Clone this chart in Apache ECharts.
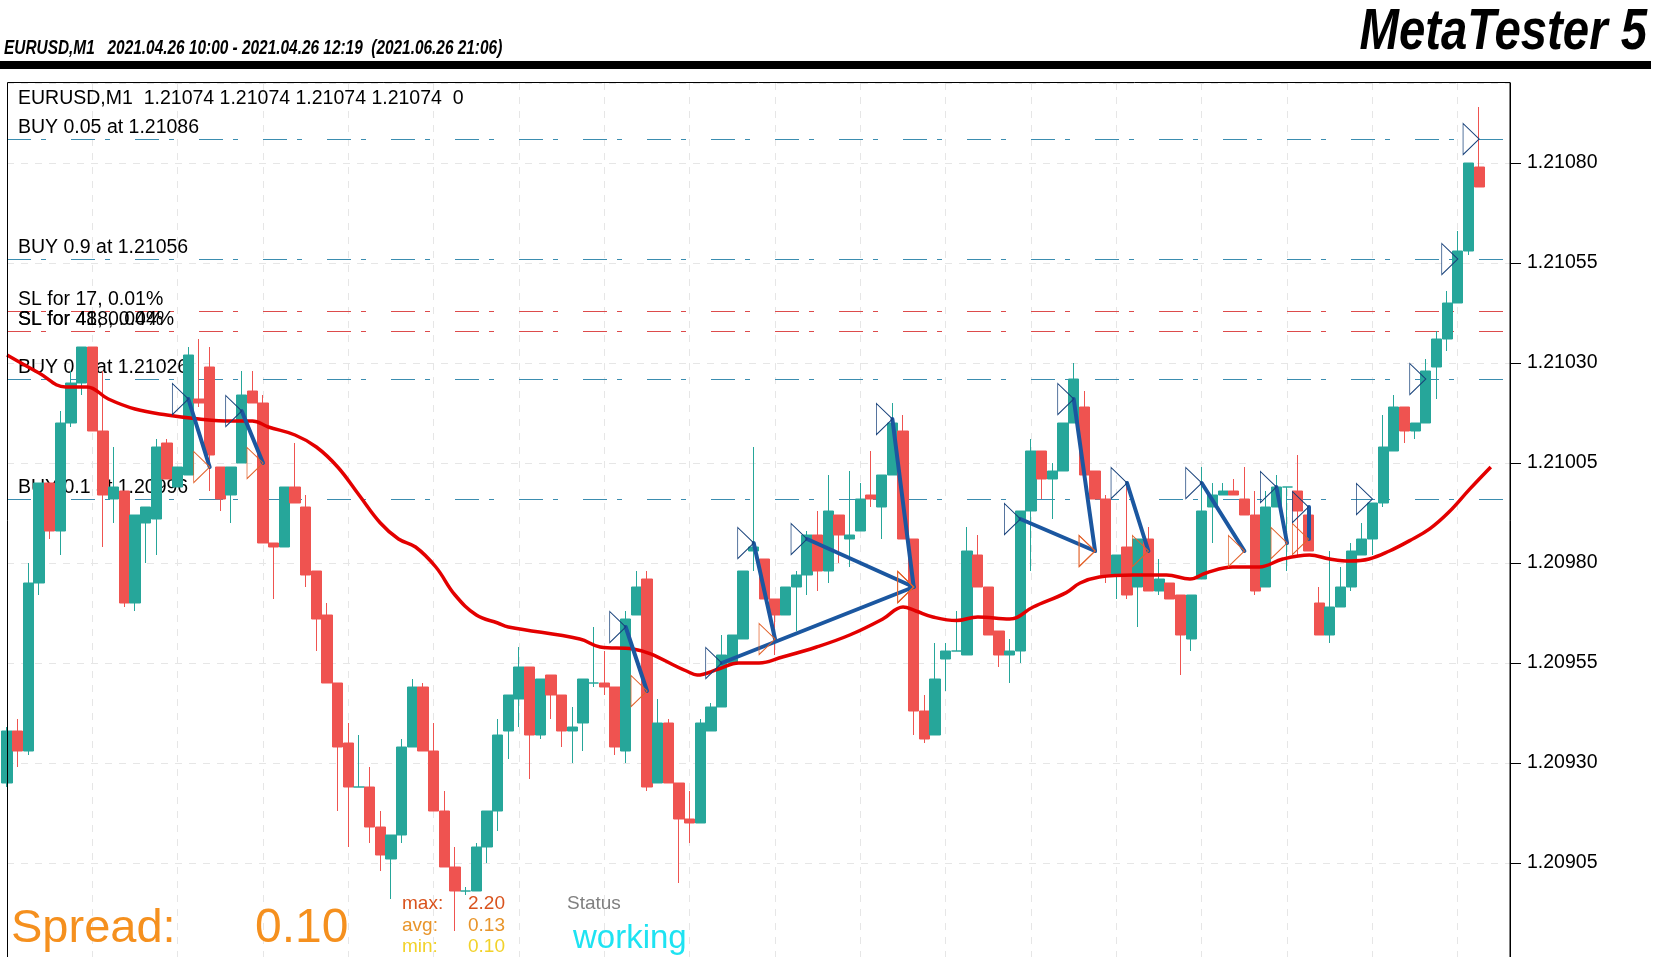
<!DOCTYPE html>
<html>
<head>
<meta charset="utf-8">
<script src="https://cdn.jsdelivr.net/npm/echarts@6/dist/echarts.min.js"></script>
<style>
  html, body { margin: 0; padding: 0; background: #fff; }
  #chart { width: 1654px; height: 957px; }
</style>
</head>
<body>
<div id="chart"></div>
<script>
// EURUSD M1 bars, index 0 = leftmost (partly hidden) bar
const opens = [
  1.20925, 1.20938, 1.20933, 1.20975, 1.21000, 1.20988, 1.21015, 1.21025, 1.21034, 1.21013,
  1.20996, 1.20998, 1.20970, 1.20990, 1.20991, 1.21010, 1.20999, 1.21002, 1.21021, 1.21029,
  1.21004, 1.20997, 1.21005, 1.21023, 1.21020, 1.20985, 1.20984, 1.20999, 1.20994, 1.20978,
  1.20967, 1.20950, 1.20935, 1.20924, 1.20924, 1.20914, 1.20906, 1.20912, 1.20934, 1.20949,
  1.20933, 1.20918, 1.20904, 1.20898, 1.20898, 1.20909, 1.20918, 1.20938, 1.20946, 1.20954,
  1.20937, 1.20952, 1.20947, 1.20938, 1.20940, 1.20950, 1.20950, 1.20949, 1.20933, 1.20967,
  1.20976, 1.20925, 1.20940, 1.20925, 1.20916, 1.20915, 1.20938, 1.20944, 1.20955, 1.20961,
  1.20983, 1.20981, 1.20971, 1.20967, 1.20974, 1.20977, 1.20987, 1.20978, 1.20992, 1.20986,
  1.20988, 1.20997, 1.20994, 1.21002, 1.21013, 1.20986, 1.20943, 1.20937, 1.20956, 1.20958,
  1.20957, 1.20982, 1.20974, 1.20963, 1.20957, 1.20958, 1.20993, 1.21008, 1.21001, 1.21003,
  1.21015, 1.21019, 1.21003, 1.20996, 1.20977, 1.20984, 1.20974, 1.20986, 1.20973, 1.20975,
  1.20972, 1.20961, 1.20976, 1.20994, 1.20997, 1.20998, 1.20996, 1.20992, 1.20974, 1.20994,
  1.20999, 1.20998, 1.20992, 1.20970, 1.20962, 1.20969, 1.20974, 1.20982, 1.20986, 1.20995,
  1.21008, 1.21019, 1.21013, 1.21015, 1.21029, 1.21036, 1.21045, 1.21058, 1.21079
];
const closes = [
  1.20938, 1.20933, 1.20975, 1.21000, 1.20988, 1.21015, 1.21025, 1.21034, 1.21013, 1.20997,
  1.20999, 1.20970, 1.20992, 1.20994, 1.21009, 1.21001, 1.21004, 1.21032, 1.21020, 1.21007,
  1.20996, 1.21004, 1.21022, 1.21020, 1.20985, 1.20984, 1.20999, 1.20995, 1.20977, 1.20966,
  1.20950, 1.20934, 1.20924, 1.20924, 1.20914, 1.20907, 1.20912, 1.20934, 1.20949, 1.20933,
  1.20918, 1.20904, 1.20898, 1.20898, 1.20909, 1.20918, 1.20937, 1.20947, 1.20954, 1.20937,
  1.20951, 1.20947, 1.20938, 1.20939, 1.20951, 1.20950, 1.20949, 1.20934, 1.20966, 1.20974,
  1.20924, 1.20940, 1.20925, 1.20916, 1.20915, 1.20940, 1.20944, 1.20957, 1.20962, 1.20978,
  1.20984, 1.20971, 1.20967, 1.20974, 1.20977, 1.20987, 1.20978, 1.20993, 1.20987, 1.20987,
  1.20996, 1.20996, 1.21002, 1.21015, 1.20986, 1.20943, 1.20936, 1.20951, 1.20958, 1.20958,
  1.20983, 1.20974, 1.20962, 1.20957, 1.20958, 1.20993, 1.21008, 1.21001, 1.21003, 1.21015,
  1.21026, 1.21002, 1.20996, 1.20977, 1.20982, 1.20972, 1.20986, 1.20973, 1.20976, 1.20971,
  1.20962, 1.20972, 1.20993, 1.20997, 1.20998, 1.20997, 1.20992, 1.20973, 1.20994, 1.20999,
  1.20999, 1.20993, 1.20983, 1.20962, 1.20969, 1.20974, 1.20983, 1.20986, 1.20995, 1.21009,
  1.21019, 1.21013, 1.21015, 1.21028, 1.21036, 1.21045, 1.21058, 1.21080, 1.21074
];
const lows = [
  1.20924, 1.20929, 1.20932, 1.20972, 1.20986, 1.20982, 1.21014, 1.21022, 1.21013, 1.20984,
  1.20990, 1.20969, 1.20968, 1.20980, 1.20982, 1.21001, 1.20999, 1.21002, 1.21019, 1.20998,
  1.20993, 1.20990, 1.21005, 1.21020, 1.20985, 1.20971, 1.20984, 1.20995, 1.20974, 1.20958,
  1.20950, 1.20918, 1.20909, 1.20924, 1.20910, 1.20903, 1.20896, 1.20910, 1.20934, 1.20933,
  1.20918, 1.20904, 1.20888, 1.20897, 1.20898, 1.20905, 1.20913, 1.20931, 1.20939, 1.20926,
  1.20936, 1.20941, 1.20934, 1.20930, 1.20933, 1.20949, 1.20947, 1.20932, 1.20930, 1.20967,
  1.20923, 1.20925, 1.20925, 1.20900, 1.20910, 1.20915, 1.20938, 1.20944, 1.20955, 1.20961,
  1.20978, 1.20971, 1.20957, 1.20967, 1.20963, 1.20972, 1.20973, 1.20975, 1.20980, 1.20979,
  1.20988, 1.20994, 1.20986, 1.21002, 1.20986, 1.20937, 1.20935, 1.20937, 1.20948, 1.20958,
  1.20957, 1.20974, 1.20962, 1.20954, 1.20950, 1.20955, 1.20978, 1.20996, 1.20991, 1.21003,
  1.21015, 1.21002, 1.20996, 1.20975, 1.20971, 1.20971, 1.20964, 1.20973, 1.20972, 1.20971,
  1.20952, 1.20958, 1.20976, 1.20985, 1.20997, 1.20997, 1.20992, 1.20972, 1.20974, 1.20994,
  1.20978, 1.20982, 1.20983, 1.20962, 1.20960, 1.20969, 1.20973, 1.20982, 1.20982, 1.20994,
  1.21008, 1.21010, 1.21011, 1.21015, 1.21021, 1.21033, 1.21045, 1.21057, 1.21074
];
const highs = [
  1.20939, 1.20941, 1.20980, 1.21000, 1.21000, 1.21018, 1.21028, 1.21034, 1.21034, 1.21028,
  1.21009, 1.20998, 1.20992, 1.20994, 1.21011, 1.21011, 1.21004, 1.21034, 1.21036, 1.21034,
  1.21004, 1.21004, 1.21028, 1.21028, 1.21022, 1.20985, 1.20999, 1.21010, 1.20997, 1.20978,
  1.20970, 1.20950, 1.20940, 1.20937, 1.20929, 1.20918, 1.20912, 1.20936, 1.20951, 1.20950,
  1.20940, 1.20923, 1.20909, 1.20899, 1.20910, 1.20918, 1.20941, 1.20947, 1.20959, 1.20954,
  1.20951, 1.20952, 1.20947, 1.20944, 1.20951, 1.20964, 1.20958, 1.20949, 1.20968, 1.20978,
  1.20978, 1.20946, 1.20941, 1.20925, 1.20923, 1.20941, 1.20945, 1.20962, 1.20962, 1.20978,
  1.21009, 1.20981, 1.20971, 1.20974, 1.20978, 1.20988, 1.20993, 1.21002, 1.20992, 1.21003,
  1.21000, 1.21008, 1.21002, 1.21020, 1.21017, 1.20986, 1.20947, 1.20960, 1.20960, 1.20968,
  1.20989, 1.20987, 1.20974, 1.20963, 1.20961, 1.20993, 1.21011, 1.21008, 1.21005, 1.21015,
  1.21030, 1.21023, 1.21003, 1.20997, 1.20982, 1.21000, 1.20986, 1.20989, 1.20981, 1.20975,
  1.20972, 1.20972, 1.21004, 1.21000, 1.21000, 1.21001, 1.21004, 1.20998, 1.20998, 1.21002,
  1.20999, 1.21007, 1.20992, 1.20974, 1.20983, 1.20979, 1.20985, 1.20990, 1.20995, 1.21017,
  1.21022, 1.21019, 1.21015, 1.21031, 1.21038, 1.21048, 1.21063, 1.21080, 1.21094
];

// moving average (bar index, price)
const maX = [0, 3, 5.5, 7.5, 9.5, 12, 15, 18, 21, 23, 24.5, 27, 29, 31, 33, 35, 36.7, 38.3, 40.2, 42,
  44, 46, 47, 53.7, 55.6, 58.7, 63.7, 64.7, 66.7, 68.6, 70.5, 72.7, 75.9, 79, 82.1, 84, 85.2, 86.8, 89, 91,
  94, 96.2, 99.3, 100.6, 102.4, 105.6, 108.7, 110.9, 112.4, 114.9, 117.4, 119.6, 122.1, 124, 125.9, 127.7,
  129.6, 131.5, 133.4, 135.2, 137.1, 139.1];
const maY = [1.21032, 1.210275, 1.21024, 1.21024, 1.21021, 1.210185, 1.21017, 1.21016, 1.210155, 1.210155,
  1.21014, 1.21012, 1.21009, 1.21004, 1.20997, 1.20990, 1.20986, 1.20984, 1.20979, 1.20972,
  1.20967, 1.20965, 1.20964, 1.20961, 1.20959, 1.209585, 1.20953, 1.20952, 1.209535, 1.20955,
  1.20955, 1.209565, 1.20959, 1.20962, 1.20966, 1.20969, 1.20968, 1.209665, 1.209656, 1.209665,
  1.20966, 1.20969, 1.209726, 1.20975, 1.209765, 1.20977, 1.20977, 1.20976, 1.209775, 1.20979,
  1.20979, 1.20981, 1.20982, 1.20981, 1.209805, 1.20981, 1.20983, 1.209856, 1.209886, 1.209928,
  1.209984, 1.21004];

// closed trades: entry bar/price -> exit bar/price
const entryIdx = [17, 22, 58, 67, 70, 75, 83, 95, 100, 105, 112, 119, 122];
const entryPrice = [1.21021, 1.21018, 1.20964, 1.20955, 1.20985, 1.20986, 1.21016, 1.20991, 1.21021, 1.21000, 1.21000, 1.20999, 1.20994];
const exitIdx = [19, 24, 60, 85, 72, 85, 85, 102, 102, 107, 116, 120, 122];
const exitPrice = [1.21004, 1.21005, 1.20948, 1.20974, 1.20961, 1.20974, 1.20974, 1.20983, 1.20983, 1.20983, 1.20983, 1.20985, 1.20986];

// open positions
const openIdx = [128, 133, 136, 138];
const openPrice = [1.20996, 1.21026, 1.21056, 1.21086];

// order / stop levels drawn across the chart
const levelPrices = [1.21086, 1.21056, 1.21043, 1.21038, 1.21026, 1.20996];
const levelColors = ['#3b8db0', '#3b8db0', '#dd4b4b', '#dd4b4b', '#3b8db0', '#3b8db0'];
const levelLabels = [
  ['BUY 0.05 at 1.21086'],
  ['BUY 0.9 at 1.21056'],
  ['SL for 17, 0.01%'],
  ['SL for 48, 0.04%', 'SL for 418, 0.04%'],
  ['BUY 0.3 at 1.21026'],
  ['BUY 0.1 at 1.20996']
];

const yTicksMin = 1.20880;
const yMax = 1.21100;
const yStep = 0.00025;
const X_MAX = 140.9;

const FONT = '"Liberation Sans", Arial, sans-serif';
const chart = echarts.init(document.getElementById('chart'));

function buildCandles() {
  return opens.map(function (o, i) {
    return [i, o, closes[i], lows[i], highs[i]];
  });
}

function buildMa() {
  return maX.map(function (x, i) { return [x, maY[i]]; });
}

function buildTradeLines() {
  return entryIdx.map(function (e, i) {
    return { coords: [[e, entryPrice[i]], [exitIdx[i], exitPrice[i]]] };
  });
}

function pairs(xs, ys) {
  return xs.map(function (x, i) { return [x, ys[i]]; });
}

function headerGraphics() {
  return [
    { type: 'rect', z: 10, shape: { x: 0, y: 61, width: 1651, height: 8 }, style: { fill: '#000' } },
    // chart frame
    {
      type: 'rect', z: 6, silent: true,
      shape: { x: 7.5, y: 82.5, width: 1502.5, height: 900 },
      style: { fill: 'none', stroke: '#000', lineWidth: 1 }
    },
    {
      type: 'text', z: 10, x: 4, y: 48, scaleX: 0.77,
      style: {
        text: 'EURUSD,M1   2021.04.26 10:00 - 2021.04.26 12:19  (2021.06.26 21:06)',
        font: 'italic bold 20px ' + FONT, fill: '#000', verticalAlign: 'middle', textVerticalAlign: 'middle'
      }
    },
    {
      type: 'text', z: 10, x: 1647, y: 33, scaleX: 0.83,
      style: {
        text: 'MetaTester 5', font: 'italic bold 57px ' + FONT, fill: '#000',
        align: 'right', textAlign: 'right', verticalAlign: 'middle', textVerticalAlign: 'middle'
      }
    },
    {
      type: 'text', z: 10, x: 18, y: 99,
      style: {
        text: 'EURUSD,M1  1.21074 1.21074 1.21074 1.21074  0',
        font: '19.5px ' + FONT, fill: '#000', verticalAlign: 'middle', textVerticalAlign: 'middle'
      }
    }
  ];
}

function panelText(txt, x, y, size, color) {
  return {
    type: 'text', z: 10, x: x, y: y,
    style: { text: txt, font: size + 'px ' + FONT, fill: color, verticalAlign: 'middle', textVerticalAlign: 'middle' }
  };
}

function spreadGraphics() {
  return [
    panelText('Spread:', 11, 929, 47, '#f5901e'),
    panelText('0.10', 255, 929, 48, '#f5901e'),
    panelText('max:', 402, 904, 19, '#d9531e'),
    panelText('2.20', 468, 904, 19, '#d9531e'),
    panelText('avg:', 402, 926, 19, '#e8952a'),
    panelText('0.13', 468, 926, 19, '#e8952a'),
    panelText('min:', 402, 947, 19, '#f2d22a'),
    panelText('0.10', 468, 947, 19, '#f2d22a'),
    panelText('Status', 567, 904, 19, '#808080'),
    panelText('working', 573, 939, 33, '#1ee3f2')
  ];
}

function levelGraphics() {
  const out = [];
  levelPrices.forEach(function (p, i) {
    const y = chart.convertToPixel({ gridIndex: 0 }, [0, p])[1];
    levelLabels[i].forEach(function (t) {
      out.push({
        type: 'text', z: 1, x: 18, y: y - 11.5,
        style: { text: t, font: '19.5px ' + FONT, fill: '#000', verticalAlign: 'middle', textVerticalAlign: 'middle' }
      });
    });
  });
  return out;
}

const TRIANGLE = 'path://M0,0L16,15.5L0,31Z';

const option = {
  animation: false,
  backgroundColor: '#fff',
  grid: {
    left: 7, top: 83, width: 1503, height: 880,
    containLabel: false, outerBoundsMode: 'none',
    show: false
  },
  xAxis: {
    type: 'value', min: 0, max: X_MAX, interval: 8,
    axisLine: { show: false, onZero: false }, axisTick: { show: false }, axisLabel: { show: false },
    splitLine: { show: true, lineStyle: { color: '#e6e6e6', type: [7, 7] } }
  },
  yAxis: {
    type: 'value', position: 'right', min: yTicksMin, max: yMax, interval: yStep,
    axisLine: { show: true, onZero: false, lineStyle: { color: '#000', width: 1 } },
    axisTick: { show: true, inside: false, length: 11, lineStyle: { color: '#000' } },
    axisLabel: {
      color: '#000', fontSize: 19.5, fontFamily: FONT, margin: 17,
      showMaxLabel: false, showMinLabel: false,
      formatter: function (v) { return v.toFixed(5); }
    },
    splitLine: { show: true, lineStyle: { color: '#e6e6e6', type: [7, 7] } }
  },
  series: [
    {
      name: 'levels', type: 'lines', coordinateSystem: 'cartesian2d', z: 1, silent: true,
      data: levelPrices.map(function (p, i) {
        return { coords: [[0, p], [X_MAX, p]], lineStyle: { color: levelColors[i] } };
      }),
      lineStyle: { width: 1, opacity: 1, type: [24, 10, 5, 25] }
    },
    {
      name: 'EURUSD', type: 'candlestick', z: 2,
      data: buildCandles(),
      barWidth: 10.6,
      itemStyle: {
        color: '#26a69a', color0: '#ef5350',
        borderColor: '#26a69a', borderColor0: '#ef5350', borderColorDoji: '#26a69a',
        borderWidth: 1
      }
    },
    {
      name: 'MA', type: 'line', z: 3, data: buildMa(), smooth: 0.4, symbol: 'none',
      lineStyle: { color: '#e30000', width: 3.5 }
    },
    {
      name: 'trades', type: 'lines', coordinateSystem: 'cartesian2d', z: 4, silent: true,
      data: buildTradeLines(),
      lineStyle: { color: '#1b57a0', width: 4, opacity: 1, cap: 'round' }
    },
    {
      name: 'exits', type: 'scatter', z: 5, silent: true,
      data: pairs(exitIdx, exitPrice),
      symbol: TRIANGLE, symbolSize: [16, 31], symbolOffset: [-8, 0],
      itemStyle: { color: 'rgba(0,0,0,0)', borderColor: '#e2622b', borderWidth: 1, opacity: 1 }
    },
    {
      name: 'entries', type: 'scatter', z: 5, silent: true,
      data: pairs(entryIdx, entryPrice).concat(pairs(openIdx, openPrice)),
      symbol: TRIANGLE, symbolSize: [16, 31], symbolOffset: [-8, 0],
      itemStyle: { color: 'rgba(0,0,0,0)', borderColor: '#17417a', borderWidth: 1, opacity: 1 }
    }
  ]
};

chart.setOption(option);
chart.setOption({ graphic: headerGraphics().concat(spreadGraphics(), levelGraphics()) });
</script>
</body>
</html>
